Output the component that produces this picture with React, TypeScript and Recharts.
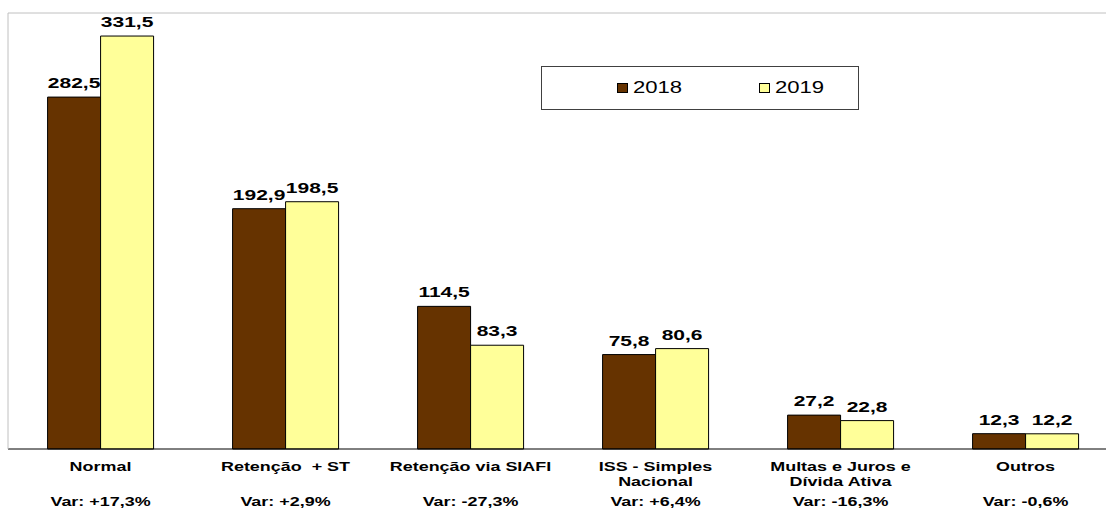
import { BarChart, Bar, XAxis, YAxis, ReferenceLine, LabelList, Legend } from "recharts"

const categories = [
  "Normal",
  "Retenção  + ST",
  "Retenção via SIAFI",
  "ISS - Simples\nNacional",
  "Multas e Juros e\nDívida Ativa",
  "Outros",
]
const values2018 = [282.5, 192.9, 114.5, 75.8, 27.2, 12.3]
const values2019 = [331.5, 198.5, 83.3, 80.6, 22.8, 12.2]
const variations = ["+17,3%", "+2,9%", "-27,3%", "+6,4%", "-16,3%", "-0,6%"]
const boundaryTicks = [0, 1, 2, 3, 4, 5, 6]

const data = categories.map((name, i) => ({
  name,
  y2018: values2018[i],
  y2019: values2019[i],
}))

const FONT = "'Liberation Sans', Arial, sans-serif"
const STRETCH = 1.38

const CategoryTick = (props: any) => {
  const { x, y, payload } = props
  const idx = categories.indexOf(payload.value)
  const lines = String(payload.value).split("\n")
  return (
    <g>
      {lines.map((line, i) => (
        <text
          key={i}
          transform={`translate(${x},${y + 21 + i * 15}) scale(${STRETCH},1)`}
          textAnchor="middle"
          fontFamily={FONT}
          fontWeight="bold"
          fontSize={13}
          fill="#000"
          style={{ whiteSpace: "pre" }}
        >
          {line}
        </text>
      ))}
      <text
        transform={`translate(${x},${y + 56}) scale(${STRETCH},1)`}
        textAnchor="middle"
        fontFamily={FONT}
        fontWeight="bold"
        fontSize={13}
        fill="#000"
      >
        {`Var: ${variations[idx]}`}
      </text>
    </g>
  )
}

const ValueLabel = (props: any) => {
  const { x, y, width, value } = props
  return (
    <text
      transform={`translate(${x + width / 2},${y - 9}) scale(1.45,1)`}
      textAnchor="middle"
      fontFamily={FONT}
      fontWeight="bold"
      fontSize={14.5}
      fill="#000"
    >
      {Number(value).toFixed(1).replace(".", ",")}
    </text>
  )
}

const LegendBox = () => {
  const items = [
    { label: "2018", color: "#663300" },
    { label: "2019", color: "#FFFF99" },
  ]
  return (
    <div
      style={{
        width: 318,
        height: 44,
        boxSizing: "border-box",
        border: "1px solid #404040",
        background: "#fff",
        display: "flex",
        alignItems: "center",
        paddingLeft: 75,
      }}
    >
      {items.map((it, i) => (
        <div key={it.label} style={{ display: "flex", alignItems: "center", marginLeft: i === 0 ? 0 : 77 }}>
          <span
            style={{
              width: 11,
              height: 10,
              boxSizing: "border-box",
              border: "1px solid #000",
              background: it.color,
              display: "inline-block",
            }}
          />
          <span
            style={{
              display: "inline-block",
              width: 49,
              marginLeft: 5,
              fontFamily: FONT,
              fontSize: 17,
              color: "#000",
              transform: "scaleX(1.3)",
              transformOrigin: "left center",
              lineHeight: "20px",
            }}
          >
            {it.label}
          </span>
        </div>
      ))}
    </div>
  )
}

export default function App() {
  return (
    <div
      style={{
        position: "absolute",
        left: 0,
        top: 0,
        width: 1106,
        height: 509,
        overflow: "hidden",
        background: "#fff",
      }}
    >
      <BarChart
        width={1125}
        height={509}
        data={data}
        margin={{ top: 13, right: 7, left: 7, bottom: 0 }}
        barCategoryGap="21.4%"
        barGap={0}
      >
        {/* frame axis: black base line with ticks between categories */}
        <XAxis
          xAxisId={0}
          type="number"
          domain={[0, 6]}
          ticks={boundaryTicks}
          tick={false}
          tickSize={5}
          height={1}
          axisLine={{ stroke: "#000" }}
          tickLine={{ stroke: "#808080" }}
        />
        <XAxis
          xAxisId="cat"
          dataKey="name"
          height={59}
          axisLine={false}
          tickLine={false}
          tickSize={0}
          tickMargin={0}
          interval={0}
          tick={<CategoryTick />}
        />
        <YAxis
          width={1}
          domain={[0, 350]}
          tick={false}
          tickLine={false}
          axisLine={{ stroke: "#c0c0c0" }}
        />
        <ReferenceLine xAxisId="cat" y={350} stroke="#c0c0c0" strokeWidth={1} />
        <Legend
          layout="horizontal"
          verticalAlign="middle"
          align="center"
          wrapperStyle={{ left: 541, top: 66, width: 318, height: 44 }}
          content={<LegendBox />}
        />
        <Bar xAxisId="cat" dataKey="y2018" name="2018" fill="#663300" stroke="#000" strokeWidth={1} isAnimationActive={false}>
          <LabelList dataKey="y2018" content={<ValueLabel />} />
        </Bar>
        <Bar xAxisId="cat" dataKey="y2019" name="2019" fill="#FFFF99" stroke="#000" strokeWidth={1} isAnimationActive={false}>
          <LabelList dataKey="y2019" content={<ValueLabel />} />
        </Bar>
      </BarChart>
    </div>
  )
}
